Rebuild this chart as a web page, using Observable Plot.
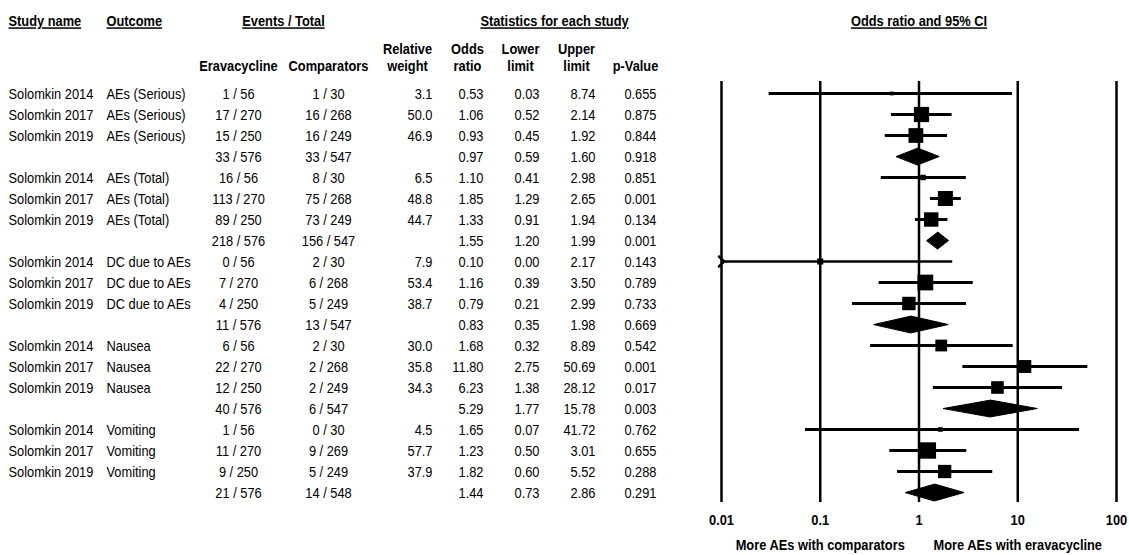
<!DOCTYPE html>
<html>
<head>
<meta charset="utf-8">
<script src="https://cdn.jsdelivr.net/npm/d3@7"></script>
<script src="https://cdn.jsdelivr.net/npm/@observablehq/plot@0.6"></script>
<style>
html, body { margin: 0; padding: 0; background: #fff; }
#chart { width: 1129px; height: 555px; overflow: hidden; }
</style>
</head>
<body>
<div id="chart"></div>
<script>
// ---------------- data ----------------
const outcomes = ["AEs (Serious)", "AEs (Total)", "DC due to AEs", "Nausea", "Vomiting"];
const studyNames = ["Solomkin 2014", "Solomkin 2017", "Solomkin 2019"];
// per row: 3 studies + pooled row, for each outcome
const eravEvents = [1, 17, 15, 33, 16, 113, 89, 218, 0, 7, 4, 11, 6, 22, 12, 40, 1, 11, 9, 21];
const eravTotal  = [56, 270, 250, 576, 56, 270, 250, 576, 56, 270, 250, 576, 56, 270, 250, 576, 56, 270, 250, 576];
const compEvents = [1, 16, 16, 33, 8, 75, 73, 156, 2, 6, 5, 13, 2, 2, 2, 6, 0, 9, 5, 14];
const compTotal  = [30, 268, 249, 547, 30, 268, 249, 547, 30, 268, 249, 547, 30, 268, 249, 547, 30, 269, 249, 548];
const relWeight  = [3.1, 50.0, 46.9, null, 6.5, 48.8, 44.7, null, 7.9, 53.4, 38.7, null, 30.0, 35.8, 34.3, null, 4.5, 57.7, 37.9, null];
const oddsRatio  = [0.53, 1.06, 0.93, 0.97, 1.10, 1.85, 1.33, 1.55, 0.10, 1.16, 0.79, 0.83, 1.68, 11.80, 6.23, 5.29, 1.65, 1.23, 1.82, 1.44];
const lowerLimit = [0.03, 0.52, 0.45, 0.59, 0.41, 1.29, 0.91, 1.20, 0.00, 0.39, 0.21, 0.35, 0.32, 2.75, 1.38, 1.77, 0.07, 0.50, 0.60, 0.73];
const upperLimit = [8.74, 2.14, 1.92, 1.60, 2.98, 2.65, 1.94, 1.99, 2.17, 3.50, 2.99, 1.98, 8.89, 50.69, 28.12, 15.78, 41.72, 3.01, 5.52, 2.86];
const pValues    = [0.655, 0.875, 0.844, 0.918, 0.851, 0.001, 0.134, 0.001, 0.143, 0.789, 0.733, 0.669, 0.542, 0.001, 0.017, 0.003, 0.762, 0.655, 0.288, 0.291];
const axisTicks = [0.01, 0.1, 1, 10, 100];
const directionLabels = ["More AEs with comparators", "More AEs with eravacycline"];
const topHeaders = ["Study name", "Outcome", "Events / Total", "Statistics for each study", "Odds ratio and 95% CI"];
const subHeaders = ["Eravacycline", "Comparators", "Relative\nweight", "Odds\nratio", "Lower\nlimit", "Upper\nlimit", "p-Value"];

// ---------------- build rows ----------------
const rows = [];
let k = 0;
outcomes.forEach((o) => {
  for (let j = 0; j < 4; j++) {
    const summary = j === 3;
    rows.push({
      row: k, summary,
      study: summary ? "" : studyNames[j],
      outcome: summary ? "" : o,
      erav: `${eravEvents[k]} / ${eravTotal[k]}`,
      comp: `${compEvents[k]} / ${compTotal[k]}`,
      weight: relWeight[k],
      or: oddsRatio[k], lo: lowerLimit[k], hi: upperLimit[k], p: pValues[k]
    });
    k++;
  }
});

// ---------------- fonts ----------------
const FONT = '"Liberation Sans", Arial, sans-serif';
const FS = 15;          // tall glyphs as in the reference
const SQUEEZE = 0.855;  // reference text is horizontally condensed

// ---------------- layout ----------------
const W = 1129, H = 555;
const mL = 721, mR = 13, mT = 81, mB = 53;
const xMin = axisTicks[0];
const columns = [
  {x: 8,   anchor: "start",  text: d => d.study},
  {x: 106, anchor: "start",  text: d => d.outcome},
  {x: 238, anchor: "middle", text: d => d.erav},
  {x: 328, anchor: "middle", text: d => d.comp},
  {x: 432, anchor: "end",    text: d => d.weight == null ? "" : d.weight.toFixed(1)},
  {x: 483, anchor: "end",    text: d => d.or.toFixed(2)},
  {x: 539, anchor: "end",    text: d => d.lo.toFixed(2)},
  {x: 595, anchor: "end",    text: d => d.hi.toFixed(2)},
  {x: 656, anchor: "end",    text: d => d.p.toFixed(3)}
];
const topHeaderPos = [{x: 8, a: "start"}, {x: 106, a: "start"}, {x: 283, a: "middle"}, {x: 554, a: "middle"}, {x: 918.5, a: "middle"}];
const subHeaderPos = [238, 328, 407, 467, 520, 576, 635];

const tableMarks = columns.map(c => Plot.text(rows, {
  y: "row", text: c.text, frameAnchor: "left", dx: c.x - mL, dy: 0.5,
  textAnchor: c.anchor, lineAnchor: "middle", fontSize: FS, fill: "black"
}));

const topHeaderMarks = topHeaders.map((h, i) => Plot.text([h], {
  text: d => d, frameAnchor: "top-left", dx: topHeaderPos[i].x - mL, dy: 21 - mT,
  textAnchor: topHeaderPos[i].a, lineAnchor: "middle", fontWeight: "bold", fontSize: FS, fill: "black"
}));
const subHeaderMarks = subHeaders.map((h, i) => {
  const two = h.includes("\n");
  return Plot.text([h], {
    text: d => d, frameAnchor: "top-left", dx: subHeaderPos[i] - mL, dy: (two ? 56.5 : 65.5) - mT,
    textAnchor: "middle", lineAnchor: "middle", lineHeight: 17 / FS, fontWeight: "bold", fontSize: FS, fill: "black"
  });
});

const studies = rows.filter(r => !r.summary);
const pooled = rows.filter(r => r.summary);
const diamondPts = pooled.flatMap(r => [
  {id: r.row, x: r.lo, y: r.row},
  {id: r.row, x: r.or, y: r.row - 0.4},
  {id: r.row, x: r.hi, y: r.row},
  {id: r.row, x: r.or, y: r.row + 0.4}
]);

const plot = Plot.plot({
  width: W, height: H,
  marginLeft: mL, marginRight: mR, marginTop: mT, marginBottom: mB,
  style: {fontFamily: FONT, fontSize: FS + "px", color: "black", background: "white"},
  x: {type: "log", domain: [axisTicks[0], axisTicks[axisTicks.length - 1]], axis: null},
  y: {type: "linear", domain: [0, 19], range: [93, 492], axis: null},
  r: {type: "sqrt", domain: [0, 50], range: [0, 8.6]},
  marks: [
    Plot.ruleX(axisTicks, {x: d => d, stroke: "black", strokeWidth: 2.5}),
    Plot.link(studies.filter(r => r.lo >= xMin), {x1: "lo", x2: "hi", y1: "row", y2: "row", stroke: "black", strokeWidth: 3}),
    Plot.link(studies.filter(r => r.lo < xMin), {x1: () => xMin, x2: "hi", y1: "row", y2: "row", stroke: "black", strokeWidth: 2.5, markerStart: "arrow"}),
    Plot.dot(studies, {x: "or", y: "row", r: "weight", symbol: "square", fill: "black", stroke: "none"}),
    Plot.line(diamondPts, {x: "x", y: "y", z: "id", curve: "linear-closed", fill: "black", stroke: "black", strokeWidth: 1}),
    Plot.text(axisTicks, {x: d => d, text: d => String(d), frameAnchor: "bottom", dy: 17.5, lineAnchor: "middle", fontWeight: "bold", fontSize: FS, fill: "black"}),
    Plot.text(directionLabels, {x: (d, i) => i === 0 ? axisTicks[1] : axisTicks[3], text: d => d, frameAnchor: "bottom", dy: 42.5, lineAnchor: "middle", fontWeight: "bold", fontSize: FS, fill: "black"}),
    ...tableMarks,
    ...topHeaderMarks,
    ...subHeaderMarks
  ]
});
document.getElementById("chart").appendChild(plot);

// condense every text run horizontally, like the reference
d3.select(plot).selectAll("text").each(function () {
  const targets = this.querySelectorAll("tspan").length ? Array.from(this.querySelectorAll("tspan")) : [this];
  targets.forEach(el => {
    if (!el.textContent) return;
    const len = el.getComputedTextLength();
    if (len > 0) {
      el.setAttribute("textLength", (len * SQUEEZE).toFixed(2));
      el.setAttribute("lengthAdjust", "spacingAndGlyphs");
    }
  });
});
d3.select(plot).selectAll("text")
  .filter(function () { return topHeaders.includes(this.textContent); })
  .style("text-decoration", "underline")
  .style("text-decoration-thickness", "2px");
</script>
</body>
</html>
